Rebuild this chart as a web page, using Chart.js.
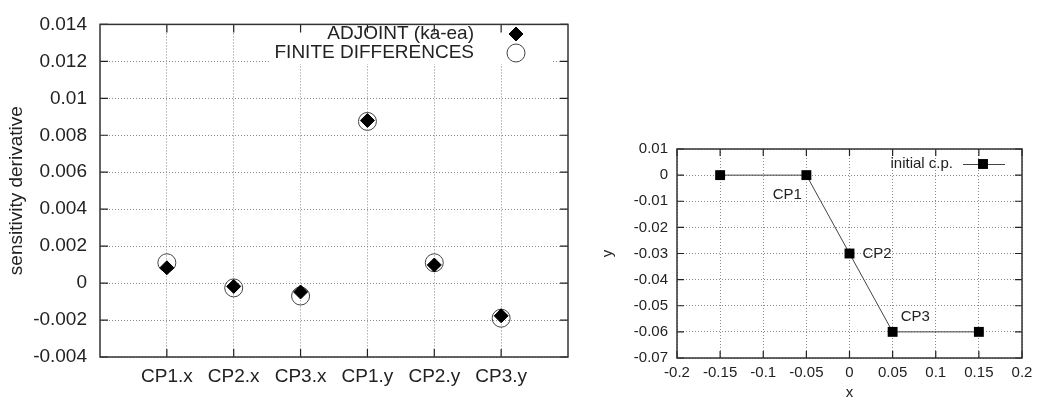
<!DOCTYPE html>
<html>
<head>
<meta charset="utf-8">
<script src="https://cdn.jsdelivr.net/npm/chart.js@4"></script>
<style>
  html, body { margin: 0; padding: 0; background: #fff; }
  #wrap { position: relative; width: 1039px; height: 402px; }
  #sens { position: absolute; left: 0; top: 0; }
  #cp { position: absolute; left: 580px; top: 0; }
</style>
</head>
<body>
<div id="wrap">
  <canvas id="sens" width="580" height="402"></canvas>
  <canvas id="cp" width="459" height="402"></canvas>
</div>
<script>
// left plot: sensitivity derivatives
const categories = ['CP1.x', 'CP2.x', 'CP3.x', 'CP1.y', 'CP2.y', 'CP3.y'];
const adjoint = [0.00083, -0.00018, -0.00048, 0.0088, 0.00098, -0.00177];
const finiteDiff = [0.0011, -0.00026, -0.0007, 0.00875, 0.0011, -0.0019];
const sensTicks = [-0.004, -0.002, 0, 0.002, 0.004, 0.006, 0.008, 0.01, 0.012, 0.014];

// right plot: initial control points
const cpX = [-0.15, -0.05, 0, 0.05, 0.15];
const cpY = [0, 0, -0.03, -0.06, -0.06];
const cpNames = ['', 'CP1', 'CP2', 'CP3', ''];
const cpXTicks = [-0.2, -0.15, -0.1, -0.05, 0, 0.05, 0.1, 0.15, 0.2];
const cpYTicks = [-0.07, -0.06, -0.05, -0.04, -0.03, -0.02, -0.01, 0, 0.01];

Chart.defaults.font.family = '"Liberation Sans", Arial, sans-serif';
Chart.defaults.color = '#222';

const fmt = v => String(+v.toFixed(4));
const gridStyle = { color: '#8a8a8a', lineWidth: 1, drawTicks: false };

// gnuplot style frame with inward ticks on all four sides
function frameTicks(len) {
    return {
        id: 'frameTicks',
        afterDraw(chart) {
            const { ctx, chartArea: a, scales } = chart;
            ctx.save();
            ctx.strokeStyle = '#222';
            ctx.lineWidth = 1.2;
            ctx.beginPath();
            scales.x.ticks.forEach(t => {
                const px = scales.x.getPixelForValue(t.value);
                ctx.moveTo(px, a.bottom); ctx.lineTo(px, a.bottom - len);
                ctx.moveTo(px, a.top); ctx.lineTo(px, a.top + len);
            });
            scales.y.ticks.forEach(t => {
                const py = scales.y.getPixelForValue(t.value);
                ctx.moveTo(a.left, py); ctx.lineTo(a.left + len, py);
                ctx.moveTo(a.right, py); ctx.lineTo(a.right - len, py);
            });
            ctx.stroke();
            ctx.strokeStyle = '#333';
            ctx.lineWidth = 1.5;
            ctx.strokeRect(a.left, a.top, a.right - a.left, a.bottom - a.top);
            ctx.restore();
        }
    };
}

const sensLegend = {
    id: 'sensLegend',
    beforeDatasetsDraw(chart) {
        const { ctx, chartArea: a } = chart;
        ctx.save();
        ctx.fillStyle = '#fff';
        ctx.fillRect(269, a.top, 553 - 269, 64 - a.top);
        ctx.restore();
    },
    afterDatasetsDraw(chart) {
        const ctx = chart.ctx;
        const rows = [34, 53];
        ctx.save();
        ctx.font = '19px "Liberation Sans", Arial, sans-serif';
        ctx.textAlign = 'right';
        ctx.textBaseline = 'middle';
        chart.data.datasets.forEach((ds, i) => {
            ctx.fillStyle = '#222';
            ctx.fillText(ds.label, 474, rows[i]);
            ctx.fillStyle = ds.backgroundColor;
            ctx.strokeStyle = ds.borderColor;
            ctx.lineWidth = ds.borderWidth;
            Chart.helpers.drawPoint(ctx, {
                pointStyle: ds.pointStyle, radius: ds.pointRadius,
                rotation: 0, borderWidth: ds.borderWidth
            }, 516, rows[i]);
        });
        ctx.restore();
    }
};

new Chart(document.getElementById('sens'), {
    type: 'scatter',
    data: {
        datasets: [{
            label: 'ADJOINT (ka-ea)',
            data: adjoint.map((v, i) => ({ x: i + 1, y: v })),
            pointStyle: 'rectRot',
            pointRadius: 7,
            backgroundColor: '#000',
            borderColor: '#000',
            borderWidth: 1
        }, {
            label: 'FINITE DIFFERENCES',
            data: finiteDiff.map((v, i) => ({ x: i + 1, y: v })),
            pointStyle: 'circle',
            pointRadius: 9,
            backgroundColor: 'rgba(255,255,255,0)',
            borderColor: '#444',
            borderWidth: 1
        }]
    },
    options: {
        responsive: false,
        animation: false,
        events: [],
        layout: { padding: { left: 0, top: 15, right: 12, bottom: 0 } },
        plugins: { legend: { display: false }, tooltip: { enabled: false } },
        scales: {
            x: {
                type: 'linear',
                min: 0,
                max: 7,
                grid: gridStyle,
                border: { display: false, dash: [1, 2] },
                afterBuildTicks: s => { s.ticks = categories.map((c, i) => ({ value: i + 1 })); },
                afterFit: s => { s.height = 45; },
                ticks: {
                    padding: 8,
                    font: { size: 19 },
                    maxRotation: 0,
                    autoSkip: false,
                    callback: v => categories[v - 1]
                }
            },
            y: {
                min: -0.004,
                max: 0.014,
                grid: gridStyle,
                border: { display: false, dash: [1, 2] },
                afterBuildTicks: s => { s.ticks = sensTicks.map(v => ({ value: v })); },
                afterFit: s => { s.width = 100; },
                ticks: { padding: 13, font: { size: 19 }, callback: fmt },
                title: {
                    display: true,
                    text: 'sensitivity derivative',
                    font: { size: 19 },
                    padding: { top: 5, bottom: 0 }
                }
            }
        }
    },
    plugins: [sensLegend, frameTicks(8)]
});

const cpAnnotations = {
    id: 'cpAnnotations',
    afterDatasetsDraw(chart) {
        const ctx = chart.ctx;
        const pts = chart.getDatasetMeta(0).data;
        const offsets = { CP1: [-19, 20, 'center'], CP2: [13, 0, 'left'], CP3: [8, -15, 'left'] };
        ctx.save();
        ctx.font = '15px "Liberation Sans", Arial, sans-serif';
        ctx.fillStyle = '#222';
        ctx.textBaseline = 'middle';
        cpNames.forEach((name, i) => {
            if (!name) return;
            const o = offsets[name];
            ctx.textAlign = o[2];
            ctx.fillText(name, pts[i].x + o[0], pts[i].y + o[1]);
        });
        // key
        const ds = chart.data.datasets[0];
        ctx.textAlign = 'right';
        ctx.fillText(ds.label, 373, 164);
        ctx.strokeStyle = ds.borderColor;
        ctx.lineWidth = ds.borderWidth;
        ctx.beginPath();
        ctx.moveTo(383, 164.5); ctx.lineTo(425, 164.5);
        ctx.stroke();
        ctx.fillStyle = ds.pointBackgroundColor;
        Chart.helpers.drawPoint(ctx, { pointStyle: 'rect', radius: ds.pointRadius, rotation: 0, borderWidth: 0 }, 403, 164);
        ctx.restore();
    }
};

new Chart(document.getElementById('cp'), {
    type: 'scatter',
    data: {
        datasets: [{
            label: 'initial c.p.',
            data: cpX.map((x, i) => ({ x: x, y: cpY[i] })),
            showLine: true,
            borderColor: '#444',
            borderWidth: 1,
            pointStyle: 'rect',
            pointRadius: 7,
            pointBackgroundColor: '#000',
            pointBorderColor: '#000',
            pointBorderWidth: 0
        }]
    },
    options: {
        responsive: false,
        animation: false,
        events: [],
        layout: { padding: { left: 0, top: 149, right: 17, bottom: 0 } },
        plugins: { legend: { display: false }, tooltip: { enabled: false } },
        scales: {
            x: {
                type: 'linear',
                min: -0.2,
                max: 0.2,
                grid: gridStyle,
                border: { display: false, dash: [1, 2] },
                afterBuildTicks: s => { s.ticks = cpXTicks.map(v => ({ value: v })); },
                afterFit: s => { s.height = 44; },
                ticks: { padding: 6, font: { size: 15 }, maxRotation: 0, autoSkip: false, callback: fmt },
                title: { display: true, text: 'x', font: { size: 15 }, padding: { top: 0, bottom: 0 } }
            },
            y: {
                min: -0.07,
                max: 0.01,
                grid: gridStyle,
                border: { display: false, dash: [1, 2] },
                afterBuildTicks: s => { s.ticks = cpYTicks.map(v => ({ value: v })); },
                afterFit: s => { s.width = 97; },
                ticks: { padding: 9, font: { size: 15 }, autoSkip: false, callback: fmt },
                title: { display: true, text: 'y', font: { size: 15 }, padding: { top: 19, bottom: 0 } }
            }
        }
    },
    plugins: [cpAnnotations, frameTicks(7)]
});
</script>
</body>
</html>
